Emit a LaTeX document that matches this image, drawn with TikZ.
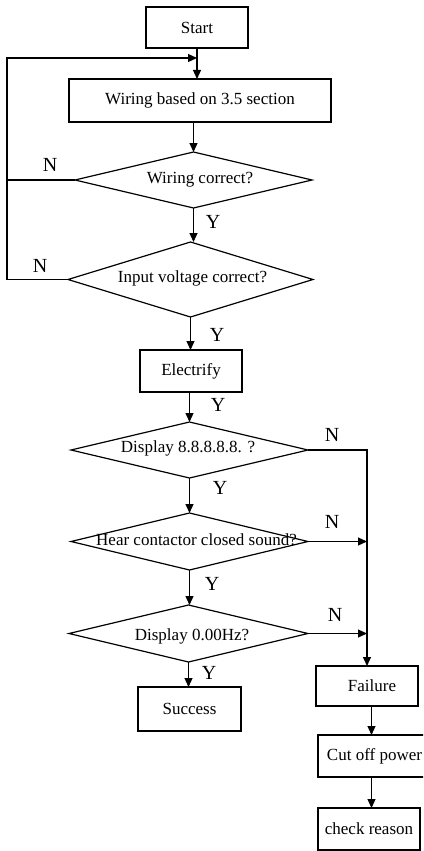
\documentclass[tikz,border=0pt]{standalone}
\usepackage{fontspec}
\setmainfont{Liberation Serif}
\usetikzlibrary{shapes.geometric,arrows.meta}
\tikzset{
  ln/.style={line width=1.2pt},
  box/.style={ln, draw, rectangle, inner sep=0pt, outer sep=0pt, font=\fontsize{17}{17}\selectfont},
  dia/.style={ln, draw, diamond, inner sep=0pt, outer sep=0pt},
  dtext/.style={font=\fontsize{17}{17}\selectfont, inner sep=0pt},
  lab/.style={font=\fontsize{20}{20}\selectfont, inner sep=0pt},
  arr/.style={ln, -{Triangle[length=9pt,width=8pt]}},
}
\begin{document}
\begin{tikzpicture}[x=1pt,y=-1pt]
\useasboundingbox (0,0) rectangle (423,851);
\fill[white] (0,0) rectangle (423,851);
\clip (0,0) rectangle (423,851);
% boxes
\node[box, minimum width=102pt, minimum height=41pt] (start) at (197,27.5) {Start};
\node[box, minimum width=262pt, minimum height=43pt] (wiring) at (200,100.5) {Wiring based on 3.5 section};
\node[dia, minimum width=237pt, minimum height=56pt] (d1) at (193.5,180) {};
\node[dtext] (d1t) at (200,180) {Wiring correct?};
\node[dia, minimum width=245pt, minimum height=75pt] (d2) at (190.5,279.5) {};
\node[dtext] (d2t) at (192.5,278) {Input voltage correct?};
\node[box, minimum width=102pt, minimum height=42pt] (elec) at (191,371) {Electrify};
\node[dia, minimum width=237pt, minimum height=56pt] (d3) at (189.5,450) {};
\node[dtext] (d3t) at (188,448) {Display 8.8.8.8.8. ?};
\node[dia, minimum width=237pt, minimum height=57pt] (d4) at (189.5,541.5) {};
\node[dtext] (d4t) at (196.5,540) {Hear contactor closed sound?};
\node[dia, minimum width=239pt, minimum height=57pt] (d5) at (188.5,633.5) {};
\node[dtext] (d5t) at (192,636) {Display 0.00Hz?};
\node[box, minimum width=103pt, minimum height=44pt] (succ) at (189.5,709) {Success};
\node[box, minimum width=102pt, minimum height=40pt] (fail) at (367,686) {\hspace*{10pt}Failure};
\node[box, minimum width=113pt, minimum height=42pt] (cut) at (374.5,756) {Cut off power};
\node[box, minimum width=102pt, minimum height=42pt] (chk) at (369,829) {check reason};
% helper coordinates
\coordinate (lp) at (7,58);
\coordinate (fx) at (371.5,0);
% main flow
\draw[arr] (start.south) -- (start.south |- wiring.north);
\draw[arr] (d1.north |- wiring.south) -- (d1.north);
\draw[arr] (d1.south) -- (d1.south |- d2.north);
\draw[arr] (d2.south) -- (d2.south |- elec.north);
\draw[arr] (d3.north |- elec.south) -- (d3.north);
\draw[arr] (d3.south) -- (d3.south |- d4.north);
\draw[arr] (d4.south) -- (d4.south |- d5.north);
\draw[arr] (d5.south) -- (d5.south |- succ.north);
% loop back
\draw[ln] (d1.west) -- (d1.west -| lp);
\draw[arr] (d2.west) -- (d2.west -| lp) -- (lp) -- (lp -| start.south);
% failure branch
\draw[arr] (d3.east) -| (fail.north);
\draw[arr] (d4.east) -- (d4.east -| fail.north);
\draw[arr] (d5.east) -- (d5.east -| fail.north);
\draw[arr] (fail.south -| fx) -- (cut.north -| fx);
\draw[arr] (cut.south -| fx) -- (chk.north -| fx);
% labels
\node[lab] (n1) at (50,165) {N};
\node[lab] (n2) at (40,266) {N};
\node[lab] (n3) at (332,435) {N};
\node[lab] (n4) at (332,522) {N};
\node[lab] (n5) at (335,615) {N};
\node[lab] (y1) at (213,222) {Y};
\node[lab] (y2) at (217,335) {Y};
\node[lab] (y3) at (218,405) {Y};
\node[lab] (y4) at (220,488) {Y};
\node[lab] (y5) at (212,584) {Y};
\node[lab] (y6) at (209,673) {Y};
\end{tikzpicture}
\end{document}
